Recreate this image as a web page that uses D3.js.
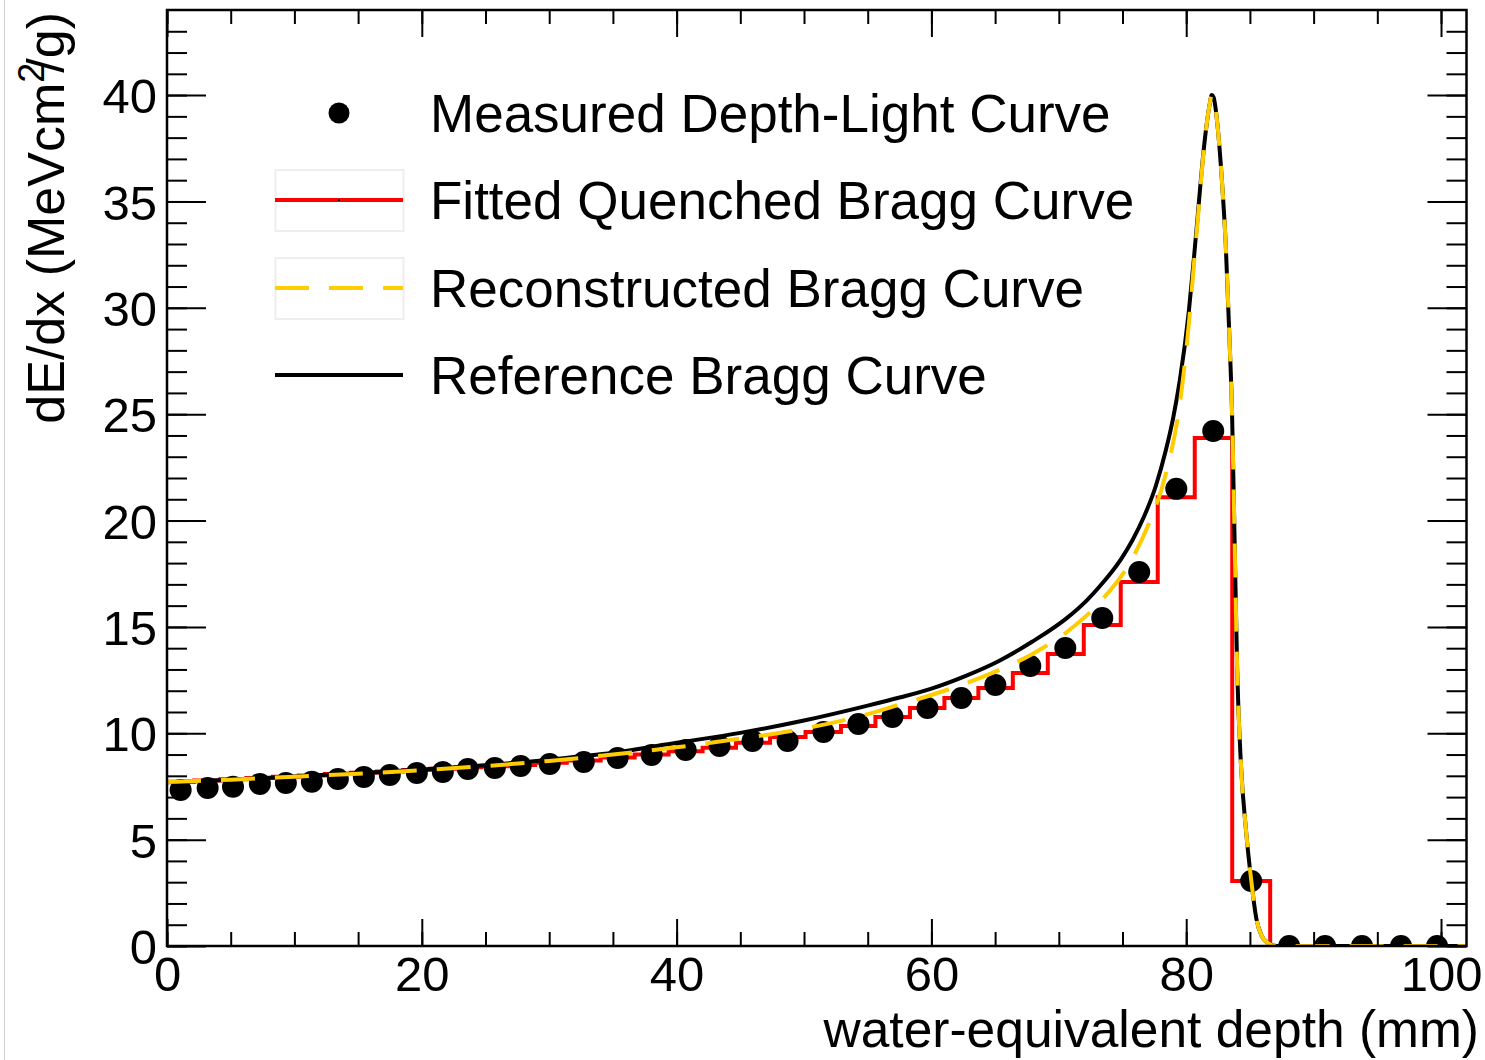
<!DOCTYPE html>
<html>
<head>
<meta charset="utf-8">
<script src="https://cdn.jsdelivr.net/npm/d3@7"></script>
<style>
  html, body { margin: 0; padding: 0; background: #fff; }
  svg { display: block; }
  text { font-family: "Liberation Sans", Arial, Helvetica, sans-serif; fill: #000; }
</style>
</head>
<body>
<svg id="chart" width="1485" height="1060"></svg>
<script>
// ---------------- data ----------------
const measuredDepth = [1.07, 3.19, 5.18, 7.29, 9.33, 11.37, 13.41, 15.45, 17.49, 19.61,
  21.65, 23.61, 25.73, 27.76, 30.04, 32.71, 35.37, 38.04, 40.71, 43.37,
  45.96, 48.71, 51.53, 54.27, 56.94, 59.69, 62.35, 65.02, 67.76, 70.51,
  73.41, 76.31, 79.22, 82.12, 85.10, 88.08, 90.90, 93.80, 96.86, 99.69];
const measuredLight = [7.33, 7.43, 7.49, 7.62, 7.66, 7.72, 7.85, 7.95, 8.04, 8.13,
  8.18, 8.32, 8.37, 8.46, 8.56, 8.65, 8.84, 8.98, 9.21, 9.40,
  9.64, 9.64, 10.06, 10.44, 10.77, 11.19, 11.66, 12.27, 13.16, 14.01,
  15.42, 17.58, 21.49, 24.21, 3.06, 0, 0, 0, 0, 0];
const fittedQuenched = [7.72, 7.78, 7.84, 7.90, 7.96, 8.02, 8.08, 8.14, 8.20, 8.27,
  8.33, 8.40, 8.45, 8.51, 8.62, 8.72, 8.86, 9.00, 9.15, 9.32,
  9.55, 9.83, 10.06, 10.34, 10.77, 11.19, 11.66, 12.13, 12.83, 13.73,
  15.09, 17.11, 21.10, 23.88, 3.06, 0, 0, 0, 0, 0];

const referenceDepth = [0, 5, 10, 15, 20, 25, 30, 35, 40, 45, 50, 55, 57.5, 60, 62.7, 65.3,
  67.9, 70.6, 72.2, 73.2, 74.9, 75.8, 76.7, 77.6, 78.4, 79.0, 79.5, 80.2, 80.6, 81.0, 81.3,
  81.6, 81.85, 82.0, 82.15, 82.3, 82.5, 82.8, 83.1, 83.4, 83.6, 83.8, 84.0, 84.3, 84.7,
  85.1, 85.5, 85.9, 86.4, 87.1, 102];
const referenceDose = [7.70, 7.82, 7.97, 8.12, 8.30, 8.50, 8.76, 9.08, 9.55, 10.02, 10.60, 11.30, 11.68, 12.10, 12.70, 13.40,
  14.30, 15.40, 16.25, 16.90, 18.20, 19.10, 20.20, 21.60, 23.30, 24.90, 26.60, 29.80, 32.30, 35.00, 37.00,
  38.60, 39.60, 40.00, 39.90, 39.40, 38.30, 36.00, 33.00, 28.50, 25.00, 19.00, 13.00, 8.50, 5.40,
  3.10, 1.30, 0.50, 0.15, 0, 0];

const reconDepth = [0, 5, 10, 15, 20, 25, 30, 35, 40, 45, 50, 55, 57.5, 60, 62.7, 65.3,
  67.9, 70.6, 73.2, 75.8, 77.1, 78.4, 79.5, 80.2, 80.6, 81.0, 81.3,
  81.6, 81.85, 82.0, 82.15, 82.3, 82.5, 82.8, 83.1, 83.4, 83.6, 83.8, 84.0, 84.3, 84.7,
  85.1, 85.5, 85.9, 86.4, 87.1, 102];
const reconDose = [7.71, 7.82, 7.96, 8.10, 8.26, 8.46, 8.70, 9.00, 9.34, 9.75, 10.22, 10.90, 11.35, 11.80, 12.35, 12.97,
  13.72, 14.75, 16.15, 18.25, 19.90, 22.20, 25.50, 29.20, 32.00, 34.80, 36.90,
  38.60, 39.60, 40.00, 39.90, 39.40, 38.30, 36.00, 33.00, 28.50, 25.00, 19.00, 13.00, 8.50, 5.40,
  3.10, 1.30, 0.50, 0.15, 0, 0];

const xMajorTicks = [0, 20, 40, 60, 80, 100];
const yMajorTicks = [0, 5, 10, 15, 20, 25, 30, 35, 40];
const legendLabels = ["Measured Depth-Light Curve", "Fitted Quenched Bragg Curve",
  "Reconstructed Bragg Curve", "Reference Bragg Curve"];

// ---------------- layout ----------------
const svg = d3.select("#chart");
const x = d3.scaleLinear().domain([0, 102]).range([167, 1466.5]);
const y = d3.scaleLinear().domain([0, 44]).range([946, 10]);
const X0 = x.range()[0], X1 = x.range()[1], Y0 = y.range()[0], Y1 = y.range()[1];

// thin gray image border at left
svg.append("line").attr("x1", 4.5).attr("x2", 4.5).attr("y1", 0).attr("y2", 1060)
  .attr("stroke", "#cfcfcf").attr("stroke-width", 1);

svg.append("clipPath").attr("id", "clip").append("rect")
  .attr("x", X0).attr("y", Y1).attr("width", X1 - X0).attr("height", Y0 - Y1);

const plot = svg.append("g").attr("clip-path", "url(#clip)");

// histogram (fitted quenched)
const edges = [0];
for (let i = 0; i < measuredDepth.length - 1; i++) edges.push((measuredDepth[i] + measuredDepth[i + 1]) / 2);
edges.push(102);
const histPts = fittedQuenched.map((v, i) => [edges[i], v]);
histPts.push([edges[edges.length - 1], fittedQuenched[fittedQuenched.length - 1]]);
plot.append("path")
  .attr("d", d3.line().x(d => x(d[0])).y(d => y(d[1])).curve(d3.curveStepAfter)(histPts))
  .attr("fill", "none").attr("stroke", "#ff0000").attr("stroke-width", 4);

// measured points
plot.selectAll("circle.meas").data(measuredDepth).enter().append("circle")
  .attr("class", "meas")
  .attr("cx", d => x(d)).attr("cy", (d, i) => y(measuredLight[i])).attr("r", 11)
  .attr("fill", "#000");

// reference curve
const curveLine = d3.line().x(d => x(d[0])).y(d => y(d[1])).curve(d3.curveMonotoneX);
plot.append("path")
  .attr("d", curveLine(referenceDepth.map((d, i) => [d, referenceDose[i]])))
  .attr("fill", "none").attr("stroke", "#000").attr("stroke-width", 4);

// reconstructed curve
plot.append("path")
  .attr("d", curveLine(reconDepth.map((d, i) => [d, reconDose[i]])))
  .attr("fill", "none").attr("stroke", "#ffcc00").attr("stroke-width", 4)
  .attr("stroke-dasharray", "34,20");

// ---------------- axes ----------------
const fontTick = 49;
function styleAxis(g) {
  g.select(".domain").remove();
  g.selectAll(".tick line").attr("stroke", "#000").attr("stroke-width", 2);
  g.selectAll("text").style("font-size", fontTick + "px")
    .style("font-family", '"Liberation Sans", Arial, Helvetica, sans-serif').attr("fill", "#000");
}
const xMinor = d3.range(0, 102, 5);
const yMinor = d3.range(0, 44, 1);

svg.append("g").attr("transform", `translate(0,${Y0})`)
  .call(d3.axisBottom(x).tickValues(xMinor).tickSize(-14).tickFormat("")).call(styleAxis);
svg.append("g").attr("transform", `translate(0,${Y0})`)
  .call(d3.axisBottom(x).tickValues(xMajorTicks).tickSize(-27).tickFormat(d3.format("d")))
  .call(styleAxis)
  .call(g => g.selectAll("text").attr("dy", null).attr("y", 45));
svg.append("g").attr("transform", `translate(0,${Y1})`)
  .call(d3.axisTop(x).tickValues(xMinor).tickSize(-14).tickFormat("")).call(styleAxis);
svg.append("g").attr("transform", `translate(0,${Y1})`)
  .call(d3.axisTop(x).tickValues(xMajorTicks).tickSize(-27).tickFormat("")).call(styleAxis);

svg.append("g").attr("transform", `translate(${X0},0)`)
  .call(d3.axisLeft(y).tickValues(yMinor).tickSize(-20).tickFormat("")).call(styleAxis);
svg.append("g").attr("transform", `translate(${X0},0)`)
  .call(d3.axisLeft(y).tickValues(yMajorTicks).tickSize(-39).tickPadding(10).tickFormat(d3.format("d")))
  .call(styleAxis)
  .call(g => g.selectAll("text").attr("dy", "0.36em"));
svg.append("g").attr("transform", `translate(${X1},0)`)
  .call(d3.axisRight(y).tickValues(yMinor).tickSize(-20).tickFormat("")).call(styleAxis);
svg.append("g").attr("transform", `translate(${X1},0)`)
  .call(d3.axisRight(y).tickValues(yMajorTicks).tickSize(-39).tickFormat("")).call(styleAxis);

// frame
svg.append("rect").attr("x", X0).attr("y", Y1).attr("width", X1 - X0).attr("height", Y0 - Y1)
  .attr("fill", "none").attr("stroke", "#000").attr("stroke-width", 2.5);

// axis titles
svg.append("text").attr("x", 1479).attr("y", 1047).attr("text-anchor", "end")
  .style("font-size", "51.5px").text("water-equivalent depth (mm)");

const yt = svg.append("text").attr("transform", "translate(64,12) rotate(-90)")
  .attr("text-anchor", "end").style("font-size", "52px");
yt.append("tspan").text("dE/dx (MeVcm");
yt.append("tspan").attr("dy", -20).style("font-size", "36px").text("2");
yt.append("tspan").attr("dy", 20).attr("dx", -10).text("/g)");

// ---------------- legend ----------------
const leg = svg.append("g");
const legY = [113, 200, 288, 375];
leg.append("circle").attr("cx", 339).attr("cy", legY[0]).attr("r", 10.5).attr("fill", "#000");
[1, 2].forEach(i => {
  leg.append("rect").attr("x", 275.5).attr("y", legY[i] - 30).attr("width", 128).attr("height", 61)
    .attr("fill", "none").attr("stroke", "#eeeeee").attr("stroke-width", 2);
});
leg.append("line").attr("x1", 275).attr("x2", 403).attr("y1", legY[1]).attr("y2", legY[1])
  .attr("stroke", "#ff0000").attr("stroke-width", 4);
leg.append("rect").attr("x", 338).attr("y", legY[1] - 1).attr("width", 2).attr("height", 2).attr("fill", "#000");
leg.append("line").attr("x1", 275).attr("x2", 403).attr("y1", legY[2]).attr("y2", legY[2])
  .attr("stroke", "#ffcc00").attr("stroke-width", 4).attr("stroke-dasharray", "34,20");
leg.append("line").attr("x1", 275).attr("x2", 403).attr("y1", legY[3]).attr("y2", legY[3])
  .attr("stroke", "#000").attr("stroke-width", 4);
legendLabels.forEach((t, i) => {
  leg.append("text").attr("x", 430).attr("y", legY[i] + 19).style("font-size", "53px").text(t);
});
</script>
</body>
</html>
